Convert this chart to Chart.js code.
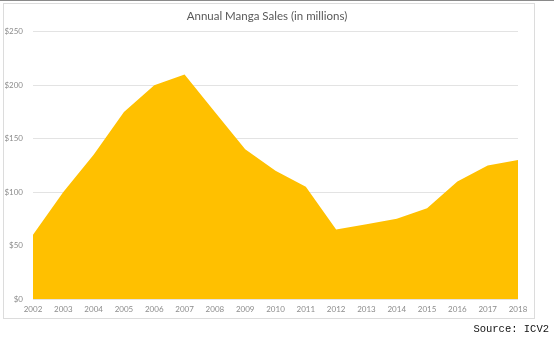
<!DOCTYPE html>
<html>
<head>
<meta charset="utf-8">
<script src="https://cdn.jsdelivr.net/npm/chart.js@4"></script>
<style>
  html, body { margin: 0; padding: 0; background: #fff; }
  #wrap { position: relative; width: 554px; height: 342px; }
  #topline { position: absolute; left: 0; top: 0; width: 554px; height: 1px; background: #8a8a8a; }
  #frame { position: absolute; left: 3px; top: 3px; width: 532px; height: 316px; border: 1px solid #dcdcdc; box-sizing: border-box; }
  canvas { position: absolute; left: 0; top: 0; }
  #source { position: absolute; right: 5px; top: 323px; font-family: "Liberation Mono", "DejaVu Sans Mono", monospace; font-size: 10.5px; color: #111; }
</style>
</head>
<body>
<div id="wrap">
  <div id="topline"></div>
  <div id="frame"></div>
  <canvas id="c" width="554" height="342"></canvas>
  <div id="source">Source: ICV2</div>
</div>
<script>
const years = ["2002","2003","2004","2005","2006","2007","2008","2009","2010","2011","2012","2013","2014","2015","2016","2017","2018"];
const sales = [60, 100, 135, 175, 200, 210, 175, 140, 120, 105, 65, 70, 75, 85, 110, 125, 130];
const yTicks = [0, 50, 100, 150, 200, 250];
const chartTitle = "Annual Manga Sales (in millions)";

const shiftTitle = {
  id: 'shiftTitle',
  afterLayout(chart) {
    if (chart.titleBlock) { chart.titleBlock.left = 16; }
  }
};

new Chart(document.getElementById('c'), {
  type: 'line',
  data: {
    labels: years,
    datasets: [{
      data: sales,
      fill: 'origin',
      backgroundColor: '#FFC000',
      borderColor: '#FFC000',
      borderWidth: 0,
      pointRadius: 0,
      tension: 0
    }]
  },
  plugins: [shiftTitle],
  options: {
    responsive: false,
    animation: false,
    layout: { padding: { left: 0, right: 36, top: 0, bottom: 0 } },
    plugins: {
      legend: { display: false },
      tooltip: { enabled: false },
      title: {
        display: true,
        text: chartTitle,
        color: '#595959',
        font: { family: 'Lato, "Open Sans", sans-serif', size: 11.5, weight: 'normal' },
        padding: { top: 9, bottom: 9 }
      }
    },
    scales: {
      x: {
        offset: false,
        grid: { display: false, drawTicks: false },
        border: { display: false },
        ticks: {
          color: '#8c8c8c',
          font: { family: 'Lato, "Open Sans", sans-serif', size: 8 },
          maxRotation: 0,
          autoSkip: false,
          padding: 6
        },
        afterFit: s => { s.height = 43; }
      },
      y: {
        min: 0,
        max: 250,
        afterBuildTicks: s => { s.ticks = yTicks.map(v => ({ value: v })); },
        grid: { color: '#e3e3e3', lineWidth: 1, drawTicks: false },
        border: { display: false },
        ticks: {
          color: '#8c8c8c',
          font: { family: 'Lato, "Open Sans", sans-serif', size: 8 },
          padding: 10,
          callback: v => '$' + v
        },
        afterFit: s => { s.width = 33; }
      }
    }
  }
});
</script>
</body>
</html>
